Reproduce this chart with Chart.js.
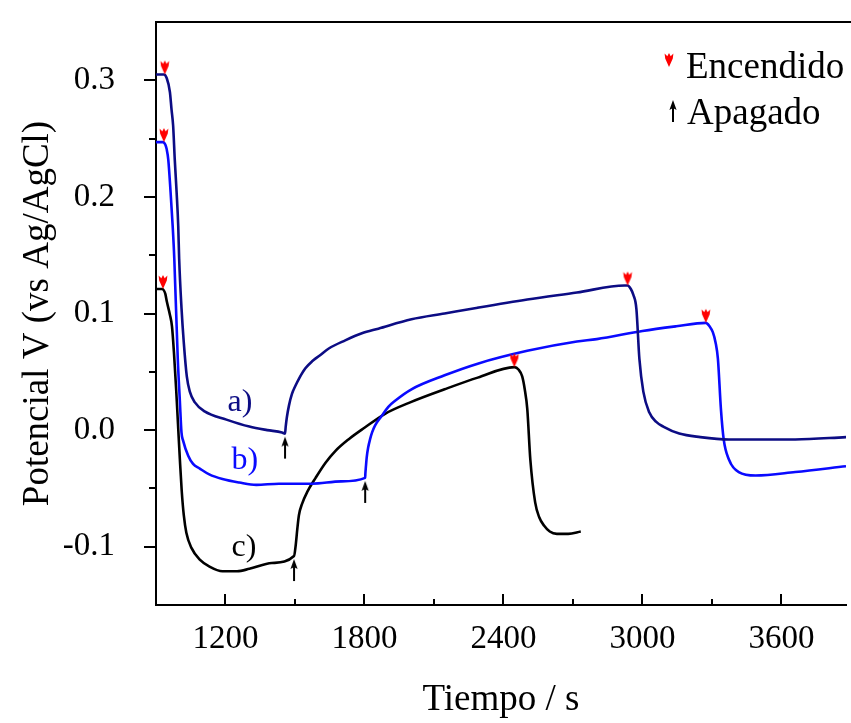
<!DOCTYPE html>
<html>
<head>
<meta charset="utf-8">
<script src="https://cdn.jsdelivr.net/npm/chart.js@4/dist/chart.umd.min.js"></script>
<style>
html,body{margin:0;padding:0;background:#fff;}
#wrap{width:851px;height:723px;}
</style>
</head>
<body>
<div id="wrap"><canvas id="c" width="851" height="723"></canvas></div>
<script>
// ---- data (time in s, potential in V vs Ag/AgCl) ----
const aTime = [900, 934, 946, 960, 967, 974, 981, 989, 996, 1000, 1010, 1020, 1033, 1046, 1067, 1110, 1204, 1303, 1380, 1444, 1457, 1460, 1465, 1474, 1487, 1502, 1517, 1545, 1574, 1607, 1646, 1717, 1789, 1860, 2003, 2146, 2289, 2503, 2717, 2923, 2936, 2950, 2961, 2974, 2987, 3004, 3030, 3060, 3090, 3159, 3250, 3373, 3660, 3879];
const aPot  = [0.305, 0.305, 0.302, 0.290, 0.275, 0.261, 0.232, 0.204, 0.175, 0.147, 0.105, 0.075, 0.046, 0.033, 0.024, 0.016, 0.009, 0.003, 0.000, -0.002, -0.003, 0.003, 0.011, 0.021, 0.031, 0.038, 0.044, 0.053, 0.059, 0.064, 0.070, 0.077, 0.083, 0.087, 0.095, 0.100, 0.105, 0.112, 0.118, 0.124, 0.124, 0.121, 0.116, 0.104, 0.061, 0.033, 0.015, 0.007, 0.003, -0.003, -0.006, -0.008, -0.008, -0.006];

const bTime = [900, 930, 940, 946, 953, 963, 972, 979, 994, 1003, 1010, 1017, 1039, 1060, 1089, 1130, 1187, 1260, 1333, 1431, 1573, 1700, 1803, 1804, 1806, 1810, 1816, 1824, 1833, 1846, 1874, 1903, 1931, 2003, 2146, 2289, 2503, 2717, 2803, 3000, 3146, 3274, 3290, 3304, 3316, 3326, 3339, 3351, 3373, 3416, 3489, 3660, 3879];
const bPot  = [0.247, 0.247, 0.245, 0.241, 0.232, 0.204, 0.175, 0.147, 0.061, 0.025, -0.002, -0.009, -0.022, -0.029, -0.033, -0.038, -0.042, -0.045, -0.047, -0.046, -0.046, -0.044, -0.041, -0.037, -0.032, -0.023, -0.015, -0.008, -0.002, 0.004, 0.012, 0.020, 0.025, 0.035, 0.047, 0.057, 0.068, 0.076, 0.078, 0.085, 0.089, 0.092, 0.089, 0.084, 0.075, 0.061, 0.018, -0.008, -0.025, -0.036, -0.039, -0.036, -0.031];

const cTime = [900, 926, 940, 947, 960, 969, 978, 987, 995, 1003, 1011, 1020, 1031, 1053, 1089, 1131, 1187, 1250, 1303, 1400, 1496, 1503, 1510, 1517, 1531, 1553, 1589, 1632, 1674, 1731, 1800, 1889, 2000, 2146, 2289, 2447, 2465, 2481, 2492, 2503, 2516, 2537, 2555, 2576, 2600, 2631, 2680, 2734];
const cPot  = [0.121, 0.121, 0.117, 0.110, 0.099, 0.089, 0.065, 0.035, 0.005, -0.025, -0.052, -0.073, -0.088, -0.101, -0.111, -0.117, -0.121, -0.121, -0.119, -0.114, -0.108, -0.099, -0.085, -0.073, -0.063, -0.053, -0.041, -0.028, -0.018, -0.008, 0.002, 0.014, 0.024, 0.035, 0.045, 0.054, 0.052, 0.046, 0.035, 0.018, -0.025, -0.062, -0.075, -0.082, -0.087, -0.089, -0.089, -0.087];

// light switched on (red) / off (black) markers
const onTime  = [938, 934, 930, 2936, 3274, 2447];
const onPot   = [0.305, 0.247, 0.121, 0.124, 0.092, 0.054];
const offTime = [1457, 1803, 1496];
const offPot  = [-0.003, -0.041, -0.108];

// curve labels
const curveLabels = ['a)', 'b)', 'c)'];
const curveLabelTime = [1209, 1226, 1226];
const curveLabelPot  = [0.016, -0.033, -0.108];

// legend
const legendLabels = ['Encendido', 'Apagado'];

// axes
const xTicks = [1200, 1500, 1800, 2100, 2400, 2700, 3000, 3300, 3600];
const xLabeled = [1200, 1800, 2400, 3000, 3600];
const yTicks = [-0.1, -0.05, 0, 0.05, 0.1, 0.15, 0.2, 0.25, 0.3];
const yLabeled = [-0.1, 0, 0.1, 0.2, 0.3];

const FONT = "'Liberation Serif', 'Times New Roman', serif";
const colA = '#0c0c84', colB = '#0a0aff', colC = '#000000', colOn = '#ff0000';

function pts(t, v){ return t.map((x,i)=>({x:x, y:v[i]})); }

// marker images (tip of arrow at canvas centre)
function makeOn(){
  const c = document.createElement('canvas'); c.width = 14; c.height = 32;
  const g = c.getContext('2d'); g.fillStyle = colOn;
  g.beginPath();
  g.moveTo(7,16); g.lineTo(3.2,7.5); g.lineTo(2.6,2.5); g.lineTo(5.3,5.2);
  g.lineTo(7,2); g.lineTo(8.7,5.2); g.lineTo(11.4,2.5); g.lineTo(10.8,7.5);
  g.closePath(); g.fill();
  return c;
}
function makeOff(){
  const c = document.createElement('canvas'); c.width = 14; c.height = 60;
  const g = c.getContext('2d'); g.fillStyle = '#000'; g.strokeStyle = '#000';
  g.beginPath();
  g.moveTo(7,33); g.lineTo(3.4,43); g.lineTo(7,41); g.lineTo(10.6,43);
  g.closePath(); g.fill();
  g.lineWidth = 2; g.beginPath(); g.moveTo(7,40); g.lineTo(7,55); g.stroke();
  return c;
}
const onImg = makeOn(), offImg = makeOff();

const isIn = (v, arr) => arr.some(a => Math.abs(a - v) < 1e-9);

const decor = {
  id: 'decor',
  afterDatasetsDraw(chart){
    const ctx = chart.ctx, ca = chart.chartArea;
    const xs = chart.scales.x, ys = chart.scales.y;
    ctx.save();
    ctx.strokeStyle = '#000'; ctx.lineWidth = 2;
    // top frame line
    ctx.beginPath(); ctx.moveTo(ca.left - 1, ca.top); ctx.lineTo(chart.width, ca.top); ctx.stroke();
    // x tick marks (inward)
    xTicks.forEach(v => {
      const px = Math.round(xs.getPixelForValue(v));
      const len = isIn(v, xLabeled) ? 11 : 6;
      ctx.beginPath(); ctx.moveTo(px, ca.bottom); ctx.lineTo(px, ca.bottom - len); ctx.stroke();
    });
    // y tick marks (outward)
    yTicks.forEach(v => {
      const py = Math.round(ys.getPixelForValue(v));
      const len = isIn(v, yLabeled) ? 12 : 7;
      ctx.beginPath(); ctx.moveTo(ca.left, py); ctx.lineTo(ca.left - len, py); ctx.stroke();
    });
    // curve labels
    const cols = [colA, colB, colC];
    ctx.font = '32px ' + FONT; ctx.textAlign = 'left'; ctx.textBaseline = 'alphabetic';
    curveLabels.forEach((t,i) => {
      ctx.fillStyle = cols[i];
      ctx.fillText(t, xs.getPixelForValue(curveLabelTime[i]), ys.getPixelForValue(curveLabelPot[i]));
    });
    // legend
    ctx.font = '37px ' + FONT; ctx.fillStyle = '#000';
    ctx.drawImage(onImg, 669 - 7, 67 - 16);
    ctx.fillText(legendLabels[0], 686, 78);
    ctx.drawImage(offImg, 673 - 7, 100 - 33);
    ctx.fillText(legendLabels[1], 687, 124);
    ctx.restore();
  }
};

const lineDs = (label, t, v, col) => ({
  label, data: pts(t, v), showLine: true, borderColor: col, backgroundColor: col,
  borderWidth: 2.6, pointRadius: 0, cubicInterpolationMode: 'monotone', order: 2
});

new Chart(document.getElementById('c'), {
  type: 'scatter',
  data: {
    datasets: [
      lineDs('a)', aTime, aPot, colA),
      lineDs('b)', bTime, bPot, colB),
      lineDs('c)', cTime, cPot, colC),
      { label: 'Encendido', data: pts(onTime, onPot), pointStyle: onImg, showLine: false, clip: false, order: 1 },
      { label: 'Apagado', data: pts(offTime, offPot), pointStyle: offImg, showLine: false, clip: false, order: 1 }
    ]
  },
  options: {
    responsive: false, animation: false, devicePixelRatio: 1, events: [],
    layout: { padding: { top: 22, right: 0, left: 0, bottom: 0 } },
    plugins: { legend: { display: false }, tooltip: { enabled: false } },
    scales: {
      x: {
        type: 'linear', position: 'bottom', min: 900, max: 3879,
        afterBuildTicks: s => { s.ticks = xTicks.map(v => ({ value: v })); },
        afterFit: s => { s.height = 118; s.paddingLeft = 0; s.paddingRight = 0; s.paddingTop = 0; s.paddingBottom = 0; },
        grid: { display: true, drawOnChartArea: false, drawTicks: false },
        border: { display: true, color: '#000', width: 2 },
        ticks: { autoSkip: false, maxRotation: 0, padding: 15, color: '#000',
          font: { family: FONT, size: 33 },
          callback: v => isIn(v, xLabeled) ? String(v) : '' },
        title: { display: true, text: 'Tiempo / s', color: '#000',
          font: { family: FONT, size: 37 }, padding: { top: 0, bottom: 1 } }
      },
      y: {
        type: 'linear', position: 'left', min: -0.15, max: 0.35,
        afterBuildTicks: s => { s.ticks = yTicks.map(v => ({ value: v })); },
        afterFit: s => { s.width = 156; s.paddingTop = 0; s.paddingBottom = 0; s.paddingLeft = 0; s.paddingRight = 0; },
        grid: { display: true, drawOnChartArea: false, drawTicks: false },
        border: { display: true, color: '#000', width: 2 },
        ticks: { autoSkip: false, padding: 41, color: '#000',
          font: { family: FONT, size: 33 },
          callback: v => isIn(v, yLabeled) ? v.toFixed(1) : '' },
        title: { display: true, text: 'Potencial V (vs Ag/AgCl)', color: '#000',
          font: { family: FONT, size: 37 }, padding: { top: 16, bottom: 0 } }
      }
    }
  },
  plugins: [decor]
});
</script>
</body>
</html>
